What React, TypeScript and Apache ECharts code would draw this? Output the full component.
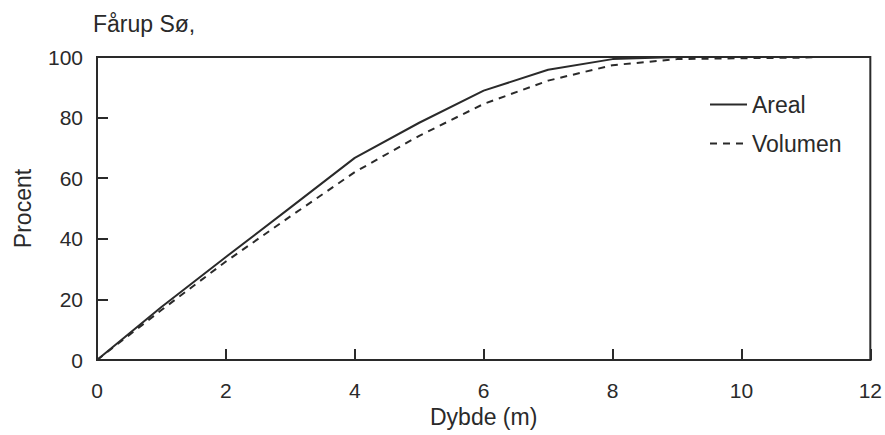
import React, { useEffect, useRef } from "react";
import * as echarts from "echarts";

const depth = [0, 1, 2, 3, 4, 5, 6, 7, 8, 9, 10, 11, 11.1];
const areal = [0, 17.5, 34, 50.3, 66.7, 78.3, 88.9, 95.8, 99.3, 100, 100, 100, 100];
const volumen = [0, 16.5, 32.5, 47.4, 62, 74, 84.5, 92.2, 97.3, 99.3, 99.6, 99.8, 99.9];
const xTicks = [0, 2, 4, 6, 8, 10, 12];
const yTicks = [0, 20, 40, 60, 80, 100];

const FONT = "'Liberation Sans', Arial, Helvetica, sans-serif";
const INK = "#2a2a2a";

export default function App() {
  const ref = useRef<HTMLDivElement>(null);
  useEffect(() => {
    if (!ref.current) return;
    const chart = echarts.init(ref.current, undefined, { renderer: "svg" });
    chart.setOption({
      animation: false,
      backgroundColor: "#ffffff",
      title: {
        text: "Fårup Sø,",
        left: 88,
        top: 7,
        textStyle: { fontFamily: FONT, fontSize: 23, fontWeight: "normal", color: INK },
      },
      legend: {
        orient: "vertical",
        left: 704,
        top: 88,
        itemWidth: 37,
        itemHeight: 20,
        itemGap: 16,
        itemStyle: { opacity: 0 },
        lineStyle: { width: 2 },
        textStyle: { fontFamily: FONT, fontSize: 23, color: INK },
        data: ["Areal", "Volumen"],
      },
      grid: {
        left: 97,
        top: 57,
        width: 775,
        height: 303,
        show: true,
        borderColor: INK,
        borderWidth: 2,
        backgroundColor: "transparent",
      },
      xAxis: {
        type: "value",
        min: xTicks[0],
        max: xTicks[xTicks.length - 1],
        interval: 2,
        name: "Dybde (m)",
        nameLocation: "middle",
        nameGap: 44,
        nameTextStyle: { fontFamily: FONT, fontSize: 23, color: INK },
        axisLine: { show: true, lineStyle: { color: INK, width: 2 } },
        axisTick: { show: true, inside: true, length: 11, lineStyle: { color: INK, width: 2 } },
        axisLabel: { fontFamily: FONT, fontSize: 21, color: INK, margin: 20 },
        splitLine: { show: false },
      },
      yAxis: {
        type: "value",
        min: yTicks[0],
        max: yTicks[yTicks.length - 1],
        interval: 20,
        name: "Procent",
        nameLocation: "middle",
        nameGap: 63,
        nameTextStyle: { fontFamily: FONT, fontSize: 23, color: INK },
        axisLine: { show: true, lineStyle: { color: INK, width: 2 } },
        axisTick: { show: true, inside: true, length: 11, lineStyle: { color: INK, width: 2 } },
        axisLabel: { fontFamily: FONT, fontSize: 21, color: INK, margin: 14 },
        splitLine: { show: false },
      },
      series: [
        {
          name: "Areal",
          type: "line",
          data: depth.map((d, i) => [d, areal[i]]),
          symbol: "none",
          lineStyle: { color: INK, width: 2, type: "solid" },
          itemStyle: { color: INK },
        },
        {
          name: "Volumen",
          type: "line",
          data: depth.map((d, i) => [d, volumen[i]]),
          symbol: "none",
          lineStyle: { color: INK, width: 2, type: [7, 6] },
          itemStyle: { color: INK },
        },
      ],
    });
    return () => chart.dispose();
  }, []);
  return (
    <div
      ref={ref}
      style={{ position: "fixed", left: 0, top: 0, width: 885, height: 435 }}
    />
  );
}
